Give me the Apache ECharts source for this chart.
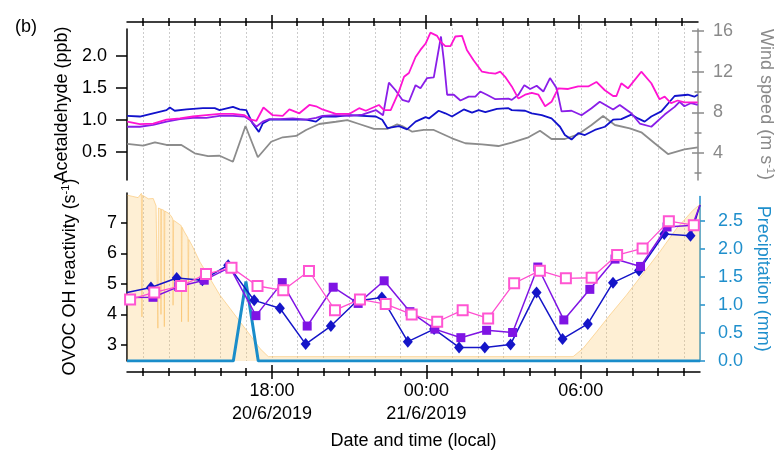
<!DOCTYPE html>
<html><head><meta charset="utf-8">
<script src="https://cdn.jsdelivr.net/npm/echarts@6/dist/echarts.min.js"></script>
<style>html,body{margin:0;padding:0;background:#fff}#c{width:784px;height:455px}</style>
</head><body><div id="c"></div>
<script>
// ---- tick labels / axis values ----
const hourTicks = [13,14,15,16,17,18,19,20,21,22,23,24,25,26,27,28,29,30,31,32,33,34];
const majorHours = [18,24,30];
const majorLabels = ['18:00\n20/6/2019','00:00\n21/6/2019','06:00'];
const acetTicks = [0.5,1.0,1.5,2.0];
const windMajor = [4,8,12,16];
const windMinor = [2,6,10,14];
const reactTicks = [3,4,5,6,7];
const precipTicks = [0,0.5,1.0,1.5,2.0,2.5];

// ---- data: [hour since 20/6/2019 00:00, value] ----
const acetBlue = [[12.38,1.06],[12.87,1.05],[13.39,1.10],[13.91,1.15],[14.04,1.19],[14.23,1.14],[14.69,1.16],[15.33,1.18],[15.79,1.18],[15.98,1.15],[16.50,1.20],[16.76,1.16],[17.02,1.15],[17.27,0.94],[17.51,0.81],[17.66,0.94],[17.92,1.00],[18.31,1.00],[18.83,1.00],[19.35,1.00],[19.74,0.97],[19.99,1.05],[20.51,1.05],[21.03,1.07],[21.55,1.06],[22.07,1.05],[22.32,1.00],[22.52,0.87],[22.97,0.90],[23.29,0.85],[23.62,0.97],[24.01,1.04],[24.14,1.02],[24.52,1.14],[24.78,1.10],[25.04,1.05],[25.50,1.16],[25.82,1.11],[26.08,1.15],[26.34,1.12],[26.79,1.17],[27.24,1.18],[27.37,1.15],[27.89,1.14],[28.15,1.10],[28.54,1.07],[28.92,1.02],[29.25,0.89],[29.44,0.76],[29.70,0.69],[29.96,0.79],[30.22,0.76],[30.61,0.84],[31.00,0.89],[31.32,1.00],[31.64,1.01],[32.03,1.08],[32.29,1.02],[32.55,0.97],[32.81,1.05],[33.20,1.13],[33.72,1.37],[34.23,1.39],[34.49,1.36],[34.62,1.39]];
const acetMagenta = [[12.38,0.97],[12.87,0.93],[13.39,0.94],[13.91,1.00],[14.43,1.02],[14.94,1.05],[15.46,1.07],[15.98,1.09],[16.50,1.09],[16.95,1.07],[17.21,1.00],[17.41,0.98],[17.69,1.19],[18.05,1.07],[18.44,1.06],[18.70,1.16],[19.09,1.10],[19.48,1.23],[19.74,1.21],[19.99,1.16],[20.51,1.09],[21.03,1.09],[21.42,1.18],[21.68,1.14],[22.19,1.23],[22.39,1.15],[22.65,1.15],[22.97,1.44],[23.17,1.67],[23.36,1.73],[23.62,1.98],[23.81,2.09],[24.01,2.19],[24.20,2.36],[24.46,2.31],[24.59,2.22],[24.78,2.15],[24.98,2.15],[25.17,2.30],[25.43,2.31],[25.62,2.09],[25.88,1.93],[26.21,1.75],[26.47,1.73],[26.73,1.72],[26.92,1.75],[27.11,1.67],[27.37,1.52],[27.63,1.33],[27.89,1.39],[28.15,1.42],[28.41,1.39],[28.67,1.21],[28.92,1.28],[29.18,1.49],[29.57,1.48],[29.96,1.52],[30.35,1.52],[30.67,1.59],[31.00,1.46],[31.32,1.37],[31.45,1.37],[31.64,1.57],[31.90,1.49],[32.42,1.75],[32.81,1.57],[33.13,1.32],[33.33,1.36],[33.58,1.26],[33.84,1.30],[34.10,1.27],[34.62,1.27]];
const acetPurple = [[12.38,0.89],[12.87,0.89],[13.39,0.92],[13.91,0.97],[14.43,1.01],[14.94,1.03],[15.46,1.03],[15.98,1.06],[16.50,1.06],[16.95,1.05],[17.15,1.00],[17.41,0.89],[17.66,0.97],[17.92,1.01],[18.31,1.01],[18.83,1.02],[19.35,1.00],[19.74,1.03],[19.99,1.06],[20.51,1.07],[21.03,1.06],[21.55,1.08],[22.07,1.15],[22.35,1.07],[22.58,1.58],[22.84,1.46],[23.10,1.31],[23.36,1.28],[23.62,1.54],[23.81,1.49],[24.07,1.65],[24.33,1.66],[24.61,2.30],[24.72,1.93],[24.85,1.39],[25.11,1.39],[25.37,1.30],[25.69,1.36],[25.95,1.36],[26.14,1.44],[26.40,1.39],[26.73,1.32],[27.24,1.33],[27.37,1.31],[27.63,1.39],[27.86,1.54],[28.09,1.48],[28.34,1.53],[28.60,1.44],[28.86,1.65],[29.12,1.49],[29.31,1.13],[29.70,1.14],[30.09,1.07],[30.48,1.18],[30.80,1.28],[31.32,1.16],[31.58,1.23],[32.03,1.10],[32.36,0.94],[32.81,0.89],[33.33,1.08],[33.72,1.20],[33.91,1.28],[34.10,1.21],[34.36,1.26],[34.62,1.23]];
const windSpeed = [[12.38,4.88],[13.00,4.71],[13.46,5.04],[13.91,4.78],[14.49,4.78],[15.01,3.96],[15.53,3.69],[15.98,3.72],[16.50,3.13],[16.99,6.65],[17.47,3.57],[17.99,5.10],[18.44,5.54],[18.96,5.67],[19.35,6.26],[19.86,6.85],[20.51,7.07],[20.96,7.24],[21.42,6.85],[22.00,6.36],[22.52,6.36],[22.90,6.82],[23.10,6.65],[23.49,6.09],[23.94,6.26],[24.33,6.26],[25.04,5.44],[25.56,4.95],[26.21,4.85],[26.85,4.68],[27.37,5.01],[28.02,5.54],[28.47,6.19],[28.92,5.37],[29.44,5.37],[29.96,5.83],[30.48,6.75],[30.93,7.64],[31.39,6.75],[31.97,6.42],[32.42,6.03],[32.94,4.95],[33.46,3.89],[34.10,4.35],[34.62,4.55]];

const reactBlue = [[12.37,4.72],[13.30,4.88],[14.30,5.19],[15.30,5.12],[16.30,5.61],[17.31,4.46],[18.31,4.20],[19.31,3.03],[20.29,3.62],[21.30,4.44],[22.27,4.55],[23.28,3.11],[24.30,3.52],[25.27,2.92],[26.27,2.92],[27.27,3.02],[28.28,4.72],[29.29,3.20],[30.27,3.69],[31.25,5.04],[32.26,5.44],[33.24,6.63],[34.26,6.57],[34.63,7.58]];
const reactPurple = [[12.37,4.55],[13.38,4.56],[14.38,4.91],[15.37,5.12],[16.37,5.54],[17.38,3.96],[18.40,5.04],[19.37,3.62],[20.38,4.89],[21.35,4.36],[22.36,5.10],[23.36,4.09],[24.33,3.52],[25.34,3.24],[26.34,3.48],[27.35,3.41],[28.33,5.55],[29.34,3.82],[30.35,4.82],[31.33,5.81],[32.32,5.57],[33.35,6.86],[34.34,6.92],[34.63,7.58]];
const reactPink = [[12.49,4.49],[13.43,4.72],[14.47,4.93],[15.44,5.32],[16.43,5.53],[17.44,4.93],[18.44,4.79],[19.44,5.42],[20.45,4.14],[21.42,4.49],[22.42,4.34],[23.43,4.00],[24.42,3.76],[25.41,4.14],[26.40,3.87],[27.41,5.02],[28.41,5.43],[29.42,5.18],[30.42,5.20],[31.41,5.94],[32.40,6.16],[33.42,7.05],[34.39,6.92]];
const precipitation = [[12.37,0],[16.50,0],[16.99,1.42],[17.47,0],[34.63,0]];
const shadeArea = [[12.38,7.90],[12.80,7.82],[12.93,7.96],[12.95,3.92],[12.97,7.90],[13.20,7.78],[13.39,7.79],[13.50,7.55],[13.56,7.50],[13.57,3.55],[13.59,7.48],[13.68,7.45],[13.69,4.00],[13.71,7.44],[13.81,7.40],[13.82,3.60],[13.84,7.38],[14.00,7.30],[14.10,7.20],[14.15,7.12],[14.16,4.30],[14.18,7.08],[14.40,6.95],[14.48,6.90],[14.49,3.76],[14.51,6.85],[14.60,6.70],[14.74,6.50],[14.75,3.76],[14.77,6.45],[14.90,6.25],[15.20,5.72],[15.59,5.18],[15.98,4.63],[16.37,4.20],[16.76,3.76],[17.15,3.33],[17.53,2.89],[17.86,2.62],[29.70,2.62],[30.09,2.89],[30.61,3.43],[31.13,3.98],[31.77,4.63],[32.42,5.34],[33.07,6.05],[33.72,6.81],[34.36,7.41],[34.65,7.61]];

// ---- chart ----
const FONT = '"Liberation Sans", Arial, sans-serif';
const T0 = 12.37, T1 = 34.63;
const GRAY = '#8a8a8a', PBLUE = '#1f8fcc';
const L = 127, W = 573;

function xAx(grid, position, offset, ticks, len, inside, showLine, label) {
  return {
    type: 'value', gridIndex: grid, position: position, offset: offset, min: T0, max: T1,
    axisLine: {show: showLine, lineStyle: {color: '#000', width: 1.5}},
    axisTick: {show: true, customValues: ticks, length: len, inside: inside, lineStyle: {color: '#000', width: 1.5}},
    axisLabel: label || {show: false},
    splitLine: {show: false}
  };
}
function yAx(grid, position, min, max, color, ticks, len, inside, showLine, extra) {
  return Object.assign({
    type: 'value', gridIndex: grid, position: position, min: min, max: max,
    axisLine: {show: showLine, lineStyle: {color: color, width: 1.5}},
    axisTick: {show: true, customValues: ticks, length: len, inside: inside, lineStyle: {color: color, width: 1.5}},
    axisLabel: {show: false},
    splitLine: {show: false}
  }, extra || {});
}
const supRich = (c) => ({sup: {fontSize: 11, verticalAlign: 'top', lineHeight: 10, color: c, fontFamily: FONT}});

const bottomLabel = {
  show: true, customValues: majorHours, margin: 8, fontSize: 18, lineHeight: 23,
  color: '#000', fontFamily: FONT,
  formatter: v => majorLabels[majorHours.indexOf(Math.round(v))]
};

const option = {
  animation: false,
  backgroundColor: '#fff',
  title: {text: '(b)', left: 10, top: 13, textStyle: {fontSize: 18, fontWeight: 'normal', color: '#000', fontFamily: FONT}},
  grid: [
    {left: L, top: 29, width: W, height: 151},
    {left: L, top: 193, width: W, height: 168},
    {left: L, top: 24, width: W, height: 337},
    {left: L, top: 196.5, width: W, height: 164.5}
  ],
  xAxis: [
    xAx(0, 'top', 7, hourTicks, 4, false, true),
    xAx(0, 'top', 7, hourTicks, 4, true, false),
    xAx(0, 'top', 7, majorHours, 7, false, false),
    xAx(0, 'top', 7, majorHours, 7, true, false),
    Object.assign(xAx(1, 'bottom', 11, hourTicks, 4, false, true, bottomLabel), {
      name: 'Date and time (local)', nameLocation: 'middle', nameGap: 60,
      nameTextStyle: {fontSize: 18, color: '#000', fontFamily: FONT}
    }),
    xAx(1, 'bottom', 11, hourTicks, 4, true, false),
    xAx(1, 'bottom', 11, majorHours, 7, false, false),
    xAx(1, 'bottom', 11, majorHours, 7, true, false),
    {type: 'value', gridIndex: 2, min: T0, max: T1, axisLine: {show: false},
     axisTick: {show: false, customValues: hourTicks}, axisLabel: {show: false},
     splitLine: {show: true, lineStyle: {color: '#cccccc', width: 1, type: [2, 2]}}},
    {type: 'value', gridIndex: 3, min: T0, max: T1, show: false}
  ],
  yAxis: [
    yAx(0, 'left', 0.058, 2.417, '#000', acetTicks, 11, false, true, {
      axisLabel: {show: true, customValues: acetTicks, margin: 20, fontSize: 18, color: '#000', fontFamily: FONT, formatter: v => v.toFixed(1)},
      name: 'Acetaldehyde (ppb)', nameLocation: 'middle', nameGap: 55,
      nameTextStyle: {fontSize: 18, color: '#000', fontFamily: FONT}
    }),
    yAx(0, 'right', 1.33, 16.21, GRAY, windMajor, 6, false, true, {
      axisLabel: {show: true, customValues: windMajor, margin: 15, fontSize: 18, color: GRAY, fontFamily: FONT},
      name: 'Wind speed (m s{sup|-1})', nameLocation: 'middle', nameGap: 58, nameRotate: -90,
      nameTextStyle: {fontSize: 18, color: GRAY, fontFamily: FONT, lineHeight: 20, rich: supRich(GRAY)}
    }),
    yAx(0, 'right', 1.33, 16.21, GRAY, windMajor, 6, true, false),
    yAx(0, 'right', 1.33, 16.21, GRAY, windMinor, 3.5, false, false),
    yAx(0, 'right', 1.33, 16.21, GRAY, windMinor, 3.5, true, false),
    yAx(1, 'left', 2.477, 7.971, '#000', reactTicks, 6, false, true, {
      axisLabel: {show: true, customValues: reactTicks, margin: 10, fontSize: 18, color: '#000', fontFamily: FONT},
      name: 'OVOC OH reactivity (s{sup|-1})', nameLocation: 'middle', nameGap: 47,
      nameTextStyle: {fontSize: 18, color: '#000', fontFamily: FONT, lineHeight: 20, rich: supRich('#000')}
    }),
    {type: 'value', gridIndex: 2, show: false, min: 0, max: 1},
    yAx(3, 'right', 0, 2.94, PBLUE, precipTicks, 5, false, true, {
      axisLabel: {show: true, customValues: precipTicks, margin: 18, fontSize: 18, color: PBLUE, fontFamily: FONT, formatter: v => v.toFixed(1)},
      name: 'Precipitation (mm)', nameLocation: 'middle', nameGap: 53, nameRotate: -90,
      nameTextStyle: {fontSize: 18, color: PBLUE, fontFamily: FONT}
    })
  ],
  series: [
    {type: 'line', name: 'shade', xAxisIndex: 4, yAxisIndex: 5, data: shadeArea, symbol: 'none', z: 1,
     lineStyle: {color: 'rgba(250,190,95,0.55)', width: 1}, areaStyle: {color: 'rgba(251,196,100,0.40)', origin: 'start'}},
    {type: 'line', name: 'precip', xAxisIndex: 9, yAxisIndex: 7, data: precipitation, symbol: 'none', z: 3,
     lineStyle: {color: '#1a8dca', width: 3}},
    {type: 'line', name: 'rBlue', xAxisIndex: 4, yAxisIndex: 5, z: 4,
     data: reactBlue.map((p, i) => (i === 0 || i === reactBlue.length - 1) ? {value: p, symbol: 'none'} : p),
     symbol: 'diamond', symbolSize: [10, 12],
     lineStyle: {color: '#1515c8', width: 1.5}, itemStyle: {color: '#1515c8'}},
    {type: 'line', name: 'rPurple', xAxisIndex: 4, yAxisIndex: 5, z: 5,
     data: reactPurple.map((p, i) => (i === 0 || i === reactPurple.length - 1) ? {value: p, symbol: 'none'} : p),
     symbol: 'rect', symbolSize: 9,
     lineStyle: {color: '#7f14e4', width: 1.5}, itemStyle: {color: '#7f14e4'}},
    {type: 'line', name: 'rPink', xAxisIndex: 4, yAxisIndex: 5, z: 6, data: reactPink,
     symbol: 'emptyRect', symbolSize: 10,
     lineStyle: {color: '#ff4fd0', width: 1.3}, itemStyle: {color: '#ff55d2', borderWidth: 1.1}},
    {type: 'line', name: 'wind', xAxisIndex: 0, yAxisIndex: 1, data: windSpeed, symbol: 'none', z: 3,
     lineStyle: {color: '#8c8c8c', width: 1.8}},
    {type: 'line', name: 'aBlue', xAxisIndex: 0, yAxisIndex: 0, data: acetBlue, symbol: 'none', z: 4,
     lineStyle: {color: '#1212cc', width: 1.8}},
    {type: 'line', name: 'aPurple', xAxisIndex: 0, yAxisIndex: 0, data: acetPurple, symbol: 'none', z: 5,
     lineStyle: {color: '#8a1ee8', width: 1.8}},
    {type: 'line', name: 'aMagenta', xAxisIndex: 0, yAxisIndex: 0, data: acetMagenta, symbol: 'none', z: 6,
     lineStyle: {color: '#ff14d2', width: 1.8}}
  ]
};
const chart = echarts.init(document.getElementById('c'), null, {renderer: 'canvas'});
chart.setOption(option);
</script></body></html>
